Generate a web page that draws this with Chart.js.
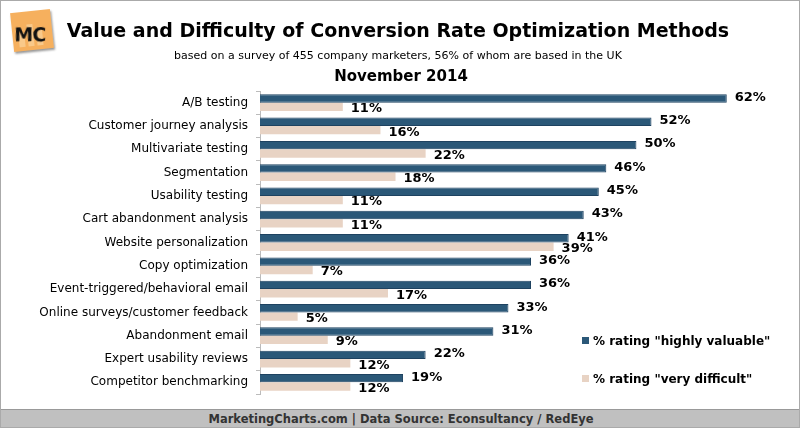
<!DOCTYPE html>
<html>
<head>
<meta charset="utf-8">
<script src="https://cdn.jsdelivr.net/npm/chart.js@4/dist/chart.umd.min.js"></script>
<style>
  body { margin: 0; background: #fff; }
  #wrap { position: relative; width: 800px; height: 428px; box-sizing: border-box; border: 1px solid #aaa; overflow: hidden; font-family: "DejaVu Sans", Verdana, sans-serif; }
  #wrap canvas { position: absolute; left: 0; top: 0; }
  .txt { position: absolute; left: 0; width: 800px; text-align: center; color: #000; }
  #title { top: 18px; font-size: 19px; font-weight: bold; left: -3px; }
  #sub { top: 48px; font-size: 11px; left: -3px; }
  #month { top: 66px; font-size: 15px; font-weight: bold; }
  #footer { position: absolute; left: 0; top: 408px; width: 800px; height: 20px; background: #c0c0c0; border-top: 1px solid #999; text-align: center; font-size: 11.5px; font-weight: bold; color: #333; line-height: 18px; }
  .leg { position: absolute; left: 581px; font-size: 12px; font-weight: bold; color: #000; }
  .leg i { display: inline-block; width: 7px; height: 7px; margin-right: 4px; vertical-align: 1px; }
  #logo { position: absolute; left: 11px; top: 10px; width: 40px; height: 39px; background: #f6b05e; transform: rotate(-6deg); box-shadow: 1px 2px 2px #999; }
  #logo span { position: absolute; left: 2px; top: 12px; font-size: 19px; font-weight: bold; color: #111; transform: rotate(6deg); letter-spacing: -1px; }
  #logo b { position: absolute; bottom: 4px; width: 6px; background: #f9c98a; }
</style>
</head>
<body>
<div id="wrap">
  <canvas id="myChart" width="798" height="426"></canvas>
  <div id="logo"><b style="left:6px;height:14px"></b><b style="left:15px;height:22px"></b><b style="left:24px;height:18px"></b><span>MC</span></div>
  <div class="txt" id="title">Value and Difficulty of Conversion Rate Optimization Methods</div>
  <div class="txt" id="sub">based on a survey of 455 company marketers, 56% of whom are based in the UK</div>
  <div class="txt" id="month">November 2014</div>
  <div class="leg" style="top:333px"><i style="background:#2b5878"></i>% rating "highly valuable"</div>
  <div class="leg" style="top:371px"><i style="background:#e8d3c4"></i>% rating "very difficult"</div>
  <div id="footer">MarketingCharts.com | Data Source: Econsultancy / RedEye</div>
</div>
<script>
const categories = [
  'A/B testing', 'Customer journey analysis', 'Multivariate testing', 'Segmentation',
  'Usability testing', 'Cart abandonment analysis', 'Website personalization',
  'Copy optimization', 'Event-triggered/behavioral email', 'Online surveys/customer feedback',
  'Abandonment email', 'Expert usability reviews', 'Competitor benchmarking'
]
const highlyValuable = [62, 52, 50, 46, 45, 43, 41, 36, 36, 33, 31, 22, 19]
const veryDifficult = [11, 16, 22, 18, 11, 11, 39, 7, 17, 5, 9, 12, 12]

// draws the "62%" style labels next to each bar
const valueLabels = {
  id: 'valueLabels',
  afterDatasetsDraw(chart) {
    const ctx = chart.ctx
    ctx.save()
    ctx.font = 'bold 13px "DejaVu Sans"'
    ctx.fillStyle = '#000'
    ctx.textBaseline = 'middle'
    chart.data.datasets.forEach((ds, i) => {
      chart.getDatasetMeta(i).data.forEach((bar, j) => {
        ctx.fillText(ds.data[j] + '%', bar.x + 8, bar.y + (i === 1 ? 2 : -1))
      })
    })
    ctx.restore()
  }
}

const ctx = document.getElementById('myChart')
new Chart(ctx, {
  type: 'bar',
  data: {
    labels: categories,
    datasets: [{
      label: '% rating "highly valuable"',
      data: highlyValuable,
      backgroundColor: '#2b5878',
      borderColor: '#1e4260',
      borderWidth: 1,
      categoryPercentage: 0.72,
      barPercentage: 1
    }, {
      label: '% rating "very difficult"',
      data: veryDifficult,
      backgroundColor: '#e8d3c4',
      borderWidth: 0,
      categoryPercentage: 0.72,
      barPercentage: 1
    }]
  },
  options: {
    indexAxis: 'y',
    responsive: false,
    animation: false,
    layout: { padding: { top: 90, bottom: 33, right: 12, left: 0 } },
    plugins: { legend: { display: false }, tooltip: { enabled: false } },
    scales: {
      x: { display: false, min: 0, max: 70 },
      y: {
        afterFit(scale) { scale.width = 259 },
        grid: { drawOnChartArea: false, drawTicks: true, tickLength: 4, color: '#bbb' },
        border: { display: true, color: '#bbb' },
        ticks: { color: '#000', padding: 8, font: { family: 'DejaVu Sans', size: 12 } }
      }
    }
  },
  plugins: [valueLabels]
})
</script>
</body>
</html>
